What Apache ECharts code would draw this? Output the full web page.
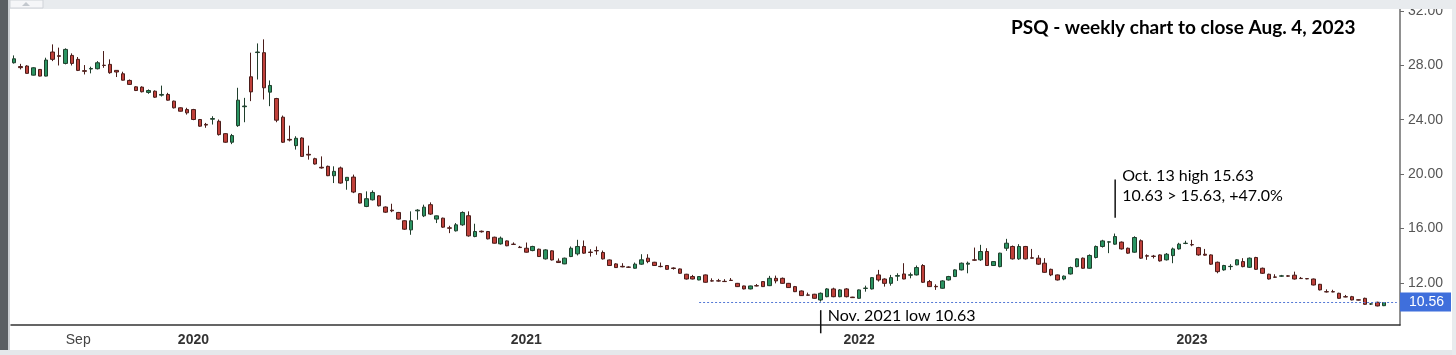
<!DOCTYPE html>
<html>
<head>
<meta charset="utf-8">
<title>PSQ weekly</title>
<script src="https://cdn.jsdelivr.net/npm/echarts@6.0.0/dist/echarts.min.js"></script>
<style>
html, body { margin: 0; padding: 0; background: #fff; }
#main { width: 1456px; height: 355px; }
</style>
</head>
<body>
<div id="main"></div>
<script>
// weekly candles, week starting Monday 2019-06-24, 215 weeks + 2 empty weeks on the right
var dates = [];
for (var w = 0; w < 217; w++) {
    dates.push(new Date(Date.UTC(2019, 5, 24) + w * 7 * 86400000).toISOString().slice(0, 10));
}

var opens = [
28.18,27.90,27.94,27.27,27.69,27.20,28.97,28.70,28.13,28.72,28.43,27.60,27.72,27.74,28.00,28.06,27.62,27.37,26.88,26.41,
26.39,26.00,26.09,25.80,25.85,25.36,24.87,24.74,24.74,24.01,23.65,24.03,23.88,22.97,22.34,23.56,24.95,27.15,28.93,28.92,
26.02,25.55,24.18,22.55,22.09,22.65,21.45,21.13,20.50,20.57,19.88,20.45,19.52,19.78,18.56,17.62,18.11,18.40,17.58,17.35,
17.18,16.57,15.90,17.30,16.93,17.75,16.69,16.76,16.05,15.83,16.27,16.94,15.41,15.80,15.78,15.36,14.87,15.09,14.85,14.63,
14.55,14.38,14.48,13.77,14.36,13.60,13.40,13.94,14.14,14.68,14.27,14.38,14.24,13.69,13.40,13.22,13.17,13.08,13.38,13.82,
13.52,13.22,13.28,13.10,13.03,12.64,12.47,12.22,12.59,12.16,12.16,12.12,12.20,11.97,11.78,11.56,11.80,12.10,11.80,12.34,
12.34,11.97,11.73,11.41,11.12,11.17,10.75,10.99,11.56,10.99,11.56,10.96,10.87,11.60,11.56,12.59,12.29,11.97,12.50,12.66,
12.57,12.59,13.28,12.10,11.75,11.61,12.22,12.47,12.96,13.38,13.70,13.70,14.31,13.28,13.20,14.55,14.68,13.77,14.68,13.85,
13.82,13.45,13.00,12.59,12.29,12.66,13.20,13.82,13.08,13.87,14.68,15.00,14.85,15.00,14.55,14.26,15.10,14.00,13.97,14.06,
13.70,14.01,14.50,14.90,14.82,14.60,14.11,14.06,13.52,12.96,13.20,13.33,13.57,13.15,13.87,13.08,12.64,12.44,12.50,12.52,
12.57,12.34,12.32,12.29,11.90,11.36,11.36,11.24,10.99,10.99,10.76,10.87,10.45,10.58,10.33
];
var closes = [
28.47,27.82,27.40,27.81,27.20,28.38,28.43,28.65,29.16,28.13,27.62,27.55,27.76,28.18,27.98,27.45,27.50,26.90,26.59,26.14,
26.05,26.14,25.65,25.85,25.43,24.87,24.62,24.50,24.01,23.52,23.60,24.08,22.90,22.34,22.83,25.43,25.00,26.04,28.97,26.34,
26.51,23.96,22.34,22.50,22.63,21.30,21.40,20.74,20.45,19.88,20.20,19.34,19.76,18.68,17.87,18.19,18.65,17.67,17.20,17.30,
16.69,15.95,16.57,17.35,17.57,17.06,16.93,16.10,16.02,16.27,17.18,15.46,15.78,15.76,15.24,14.92,15.29,14.73,14.83,14.60,
14.26,14.68,13.94,14.43,13.69,13.50,13.82,14.55,14.68,14.19,14.24,14.36,13.77,13.28,13.13,13.18,13.15,13.38,13.70,13.57,
13.28,13.20,13.00,13.06,12.71,12.29,12.29,12.47,12.05,12.14,12.14,12.10,12.18,11.73,11.56,11.78,11.78,11.73,12.34,12.15,
11.97,11.66,11.36,11.07,11.10,10.87,11.24,11.56,10.99,11.49,10.99,10.92,11.49,11.62,12.39,12.22,11.97,12.39,12.54,12.29,
12.60,13.13,12.05,11.73,11.72,12.15,12.47,12.96,13.45,13.45,13.67,14.31,13.28,13.57,14.19,14.92,13.77,14.68,13.77,13.82,
13.38,12.78,12.59,12.22,12.50,13.13,13.77,13.08,14.02,14.68,15.09,15.02,15.41,14.50,14.19,15.34,13.82,13.97,13.95,13.62,
14.11,14.50,14.85,14.92,14.80,14.06,14.04,13.38,12.83,13.28,13.22,13.70,13.20,13.82,13.00,12.71,12.29,12.42,12.52,12.50,
12.29,12.32,12.30,11.85,11.49,11.34,11.34,10.87,10.97,10.75,10.74,10.43,10.46,10.31,10.56
];
var lows = [
28.12,27.69,27.38,27.25,27.18,27.18,28.30,27.98,28.06,27.98,27.57,27.32,27.40,27.69,27.81,27.37,27.13,26.88,26.55,26.10,
26.00,25.90,25.60,25.70,25.40,24.82,24.60,24.37,23.96,23.48,23.40,23.64,22.83,22.30,22.20,23.47,23.81,25.36,26.95,25.48,
24.99,23.81,22.29,22.40,21.80,21.28,21.06,20.70,20.40,19.85,19.34,19.30,18.85,18.60,17.85,17.57,18.06,17.62,17.15,17.20,
16.65,15.90,15.54,16.64,16.84,17.00,16.40,16.05,15.66,15.78,16.20,15.40,15.36,15.70,15.20,14.90,14.82,14.70,14.80,14.58,
14.23,14.33,13.92,13.72,13.65,13.48,13.38,13.90,14.02,14.14,13.94,14.07,13.72,13.25,13.10,13.15,13.10,13.05,13.33,13.45,
13.25,13.15,12.97,12.98,12.68,12.25,12.26,12.20,12.02,12.10,12.10,12.08,12.15,11.70,11.53,11.53,11.75,11.70,11.77,11.97,
11.94,11.63,11.33,11.05,11.07,10.85,10.63,10.95,10.95,10.95,10.94,10.90,10.85,11.36,11.52,12.10,11.73,11.80,12.15,12.27,
12.34,12.55,12.00,11.70,11.49,11.58,12.18,12.44,12.92,12.71,13.62,13.62,13.25,13.25,13.15,14.36,13.72,13.70,13.72,13.80,
13.33,12.75,12.50,12.18,12.20,12.62,13.15,13.05,13.05,13.80,14.60,14.19,14.80,14.45,14.14,14.22,13.77,13.70,13.80,13.57,
13.65,13.45,14.45,14.85,14.70,14.00,14.00,13.33,12.71,12.90,12.96,13.30,13.15,13.10,12.96,12.66,12.25,12.37,12.45,12.45,
12.25,12.30,12.27,11.82,11.45,11.30,11.32,10.84,10.95,10.72,10.72,10.40,10.38,10.28,10.30
];
var highs = [
28.72,28.10,28.00,27.85,27.72,28.55,29.53,29.29,29.24,28.87,28.60,28.01,27.89,28.30,29.04,28.43,27.64,27.52,26.95,26.46,
26.45,26.22,26.15,26.50,25.97,25.40,24.90,24.87,24.79,24.05,23.76,24.25,24.01,23.00,22.95,26.34,25.60,28.92,29.60,29.90,
26.88,25.60,24.30,23.56,22.78,22.70,22.09,21.20,21.30,20.62,20.57,20.55,19.78,19.96,18.60,18.73,18.80,18.45,17.62,17.82,
17.22,16.60,17.26,17.42,17.75,17.92,16.95,16.80,16.20,16.40,17.26,17.26,16.35,15.85,15.82,15.40,15.41,15.12,14.98,14.72,
14.97,14.73,14.52,14.48,14.40,13.80,13.86,14.68,15.17,15.12,14.48,14.68,14.38,13.72,13.45,13.45,13.22,13.50,14.11,14.11,
13.55,13.50,13.30,13.15,13.06,12.67,12.59,12.50,12.62,12.34,12.30,12.28,12.36,12.00,11.80,11.80,11.92,12.12,12.52,12.54,
12.40,12.00,11.78,11.45,11.29,11.20,11.30,11.62,11.65,11.55,11.62,10.98,11.52,11.80,12.42,12.96,12.34,12.59,12.71,13.45,
12.76,13.28,13.38,12.22,11.90,12.20,12.52,13.00,13.50,13.57,14.60,14.80,14.55,13.60,14.22,15.24,14.75,14.85,14.72,14.50,
14.04,13.82,13.05,12.62,12.55,13.20,13.82,13.87,14.10,14.75,15.17,15.06,15.63,15.05,14.60,15.43,15.20,14.10,14.06,14.10,
14.20,14.60,14.95,15.10,15.17,14.65,14.50,14.10,13.57,13.33,13.38,13.75,13.82,13.87,13.92,13.13,12.68,12.64,12.59,12.57,
12.83,12.44,12.36,12.32,11.93,11.53,11.50,11.28,11.12,11.05,10.78,10.92,10.52,10.62,10.60
];

var tickDates = ['2019-09-02', '2020-01-06', '2020-05-04', '2020-09-07', '2021-01-04', '2021-05-03',
    '2021-09-06', '2022-01-03', '2022-05-02', '2022-09-05', '2023-01-02', '2023-05-01'];
var tickLabels = ['Sep', '2020', '', '', '2021', '', '', '2022', '', '', '2023', ''];
var yTicks = [12, 16, 20, 24, 28, 32];
var lastClose = 10.56;
var lowIndex = 126;   // week of Nov. 22, 2021
var highIndex = 172;  // week of Oct. 10, 2022

var candles = opens.map(function (o, i) {
    return [o, closes[i], lows[i], highs[i]];
});

function isTick(index, value) {
    return tickDates.indexOf(value) >= 0;
}

var myChart = echarts.init(document.getElementById('main'));

var option = {
    animation: false,
    backgroundColor: '#fff',
    grid: { left: 11, right: 56, top: 9, bottom: 30 },
    xAxis: {
        type: 'category',
        data: dates,
        boundaryGap: true,
        axisLine: { lineStyle: { color: '#333', width: 1.5 } },
        axisTick: { alignWithLabel: true, length: 4, interval: isTick, lineStyle: { color: '#333' } },
        axisLabel: {
            interval: isTick,
            margin: 8,
            formatter: function (value) {
                var t = tickLabels[tickDates.indexOf(value)];
                if (!t) return '';
                return t === 'Sep' ? '{m|' + t + '}' : '{y|' + t + '}';
            },
            rich: {
                m: { color: '#444', fontSize: 14, fontFamily: 'Liberation Sans' },
                y: { color: '#333', fontSize: 14, fontWeight: 'bold', fontFamily: 'Liberation Sans' }
            }
        },
        splitLine: { show: false }
    },
    yAxis: {
        type: 'value',
        position: 'right',
        min: 8.91,
        max: 32.13,
        axisLine: { show: true, lineStyle: { color: '#6b6b6b', width: 1.5 } },
        axisTick: { show: true, length: 4, customValues: yTicks, lineStyle: { color: '#6b6b6b' } },
        axisLabel: {
            customValues: yTicks,
            formatter: function (v) { return v.toFixed(2); },
            color: '#555',
            fontSize: 14,
            fontFamily: 'Liberation Sans',
            margin: 8
        },
        splitLine: { show: false }
    },
    series: [{
        type: 'candlestick',
        data: candles,
        barWidth: 4,
        itemStyle: {
            color: '#2a9462',
            color0: '#c0403a',
            borderColor: '#1f3f2c',
            borderColor0: '#4b1d1a',
            borderWidth: 1
        },
        markLine: {
            silent: true,
            symbol: 'none',
            label: { show: false },
            lineStyle: { color: '#5479d6', type: [2, 2], width: 1.2, opacity: 1 },
            data: [[
                { coord: [dates[107], lastClose] },
                { coord: [dates[dates.length - 1], lastClose] }
            ]]
        }
    }]
};
myChart.setOption(option);

// annotations and window frame
var toPx = function (d) { return myChart.convertToPixel({ xAxisIndex: 0, yAxisIndex: 0 }, d); };
var hiTop = toPx([dates[highIndex], 19.6]);
var hiBot = toPx([dates[highIndex], 16.8]);
var loTop = toPx([dates[lowIndex], 10.0]);
var loBot = toPx([dates[lowIndex], 8.3]);
var tagY = toPx([dates[0], lastClose])[1];
var annFont = '16px Lato';

myChart.setOption({
    graphic: [
        { type: 'text', z: 50, style: { x: 1011, y: 28, text: 'PSQ - weekly chart to close Aug. 4, 2023',
            font: 'bold 19px Lato', fill: '#000', verticalAlign: 'middle' } },
        { type: 'line', z: 50, shape: { x1: hiTop[0], y1: hiTop[1], x2: hiBot[0], y2: hiBot[1] },
            style: { stroke: '#111', lineWidth: 1.5 } },
        { type: 'text', z: 50, style: { x: hiTop[0] + 7, y: 176, text: 'Oct. 13 high 15.63',
            font: annFont, fill: '#000', verticalAlign: 'middle' } },
        { type: 'text', z: 50, style: { x: hiTop[0] + 7, y: 196, text: '10.63 > 15.63, +47.0%',
            font: annFont, fill: '#000', verticalAlign: 'middle' } },
        { type: 'line', z: 50, shape: { x1: loTop[0], y1: loTop[1], x2: loBot[0], y2: loBot[1] },
            style: { stroke: '#111', lineWidth: 1.5 } },
        { type: 'text', z: 50, style: { x: loTop[0] + 7, y: 316, text: 'Nov. 2021 low 10.63',
            font: annFont, fill: '#000', verticalAlign: 'middle' } },
        // last price tag
        { type: 'rect', z: 60, shape: { x: 1400, y: tagY - 10, width: 51, height: 19 },
            style: { fill: '#3f6fdc' } },
        { type: 'text', z: 61, style: { x: 1409, y: tagY, text: lastClose.toFixed(2),
            font: '14px "Liberation Sans"', fill: '#fff', verticalAlign: 'middle' } },
        // frame
        { type: 'rect', z: 90, shape: { x: 0, y: 0, width: 1456, height: 9 }, style: { fill: '#e8ebee' } },
        { type: 'rect', z: 91, shape: { x: 10, y: 0, width: 33, height: 8 },
            style: { fill: '#f5f6f8', stroke: '#cfd3d8', lineWidth: 1 } },
        { type: 'polygon', z: 92, shape: { points: [[22, 6], [30, 6], [26, 2]] }, style: { fill: '#c3c8ce' } },
        { type: 'rect', z: 90, shape: { x: 0, y: 0, width: 8, height: 355 }, style: { fill: '#5a5f63' } },
        { type: 'rect', z: 90, shape: { x: 8, y: 0, width: 2, height: 355 }, style: { fill: '#cdd1d5' } },
        { type: 'rect', z: 90, shape: { x: 0, y: 350, width: 1456, height: 5 }, style: { fill: '#e5e8eb' } },
        { type: 'rect', z: 90, shape: { x: 1452, y: 0, width: 4, height: 355 }, style: { fill: '#e8ebee' } }
    ]
});
</script>
</body>
</html>
